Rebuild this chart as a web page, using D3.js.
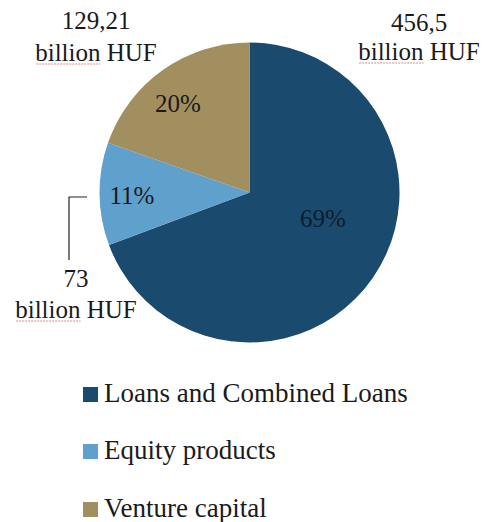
<!DOCTYPE html>
<html>
<head>
<meta charset="utf-8">
<script src="https://cdn.jsdelivr.net/npm/d3@7"></script>
<style>
  html, body { margin: 0; padding: 0; background: #fff; }
  svg { display: block; }
  text { font-family: "Liberation Serif", "Times New Roman", serif; fill: #1a1a1a; }
</style>
</head>
<body>
<svg id="chart" width="489" height="522"></svg>
<script>
// Funding by product type (billion HUF)
const categories = ["Loans and Combined Loans", "Equity products", "Venture capital"];
const amounts = [456.5, 73, 129.21];
const amountLabels = ["456,5", "73", "129,21"];
const percentLabels = ["69%", "11%", "20%"];
const colors = ["#1b4a6f", "#5fa0cc", "#a28f5f"];

const svg = d3.select("#chart");
const cx = 249.5, cy = 192.5, radius = 150;

const pie = d3.pie().sort(null).value(d => d.value);
const arcs = pie(categories.map((c, i) => ({ name: c, value: amounts[i], i })));
const arc = d3.arc().innerRadius(0).outerRadius(radius);

const g = svg.append("g").attr("transform", `translate(${cx},${cy})`);
g.selectAll("path.slice")
  .data(arcs)
  .join("path")
  .attr("class", "slice")
  .attr("d", arc)
  .attr("fill", d => colors[d.data.i]);

// Percent labels inside slices
const pctPos = [
  [73.5, 34.5],   // loans
  [-117.5, 11.5], // equity
  [-71.5, -80.5]  // venture
];
g.selectAll("text.pct")
  .data(arcs)
  .join("text")
  .attr("class", "pct")
  .attr("x", (d, k) => pctPos[k][0])
  .attr("y", (d, k) => pctPos[k][1])
  .attr("text-anchor", "middle")
  .attr("font-size", 25)
  .style("fill", (d, k) => k === 0 ? "#0c1c2e" : "#1a1a1a")
  .text((d, k) => percentLabels[k]);

// Amount labels outside the pie
const amountPos = [
  { x: 419, y1: 31, y2: 60 },
  { x: 76, y1: 287, y2: 318 },
  { x: 96, y1: 29, y2: 61 }
];
amountPos.forEach((p, k) => {
  const t = svg.append("text")
    .attr("text-anchor", "middle")
    .attr("font-size", 25);
  t.append("tspan").attr("x", p.x).attr("y", p.y1).text(amountLabels[k]);
  t.append("tspan").attr("x", p.x).attr("y", p.y2).text("billion HUF");
});

// spell-check underline under each "billion"
svg.selectAll("tspan").each(function () {
  if (this.textContent !== "billion HUF") return;
  const bb = this.getBBox();
  const y = +this.getAttribute("y") + 3;
  const tmp = svg.append("text").attr("font-size", 25).text("billion");
  const w = tmp.node().getComputedTextLength();
  tmp.remove();
  svg.append("line")
    .attr("x1", bb.x + 1).attr("x2", bb.x + w)
    .attr("y1", y).attr("y2", y)
    .attr("stroke", "#d98a8a").attr("stroke-width", 1)
    .attr("stroke-dasharray", "2,1");
});

// Leader line for the equity label
svg.append("path")
  .attr("d", d3.line()([[87, 197], [69, 197], [69, 260]]))
  .attr("fill", "none")
  .attr("stroke", "#222")
  .attr("stroke-width", 1.2);

// Legend
const legend = svg.append("g").attr("transform", "translate(83,0)");
const legendY = [387, 444, 502];
legend.selectAll("rect")
  .data(categories)
  .join("rect")
  .attr("x", 0)
  .attr("y", (d, i) => legendY[i])
  .attr("width", 15)
  .attr("height", 15)
  .attr("fill", (d, i) => colors[i]);
legend.selectAll("text")
  .data(categories)
  .join("text")
  .attr("x", 21)
  .attr("y", (d, i) => legendY[i] + 15)
  .attr("font-size", 27)
  .text(d => d);
</script>
</body>
</html>
